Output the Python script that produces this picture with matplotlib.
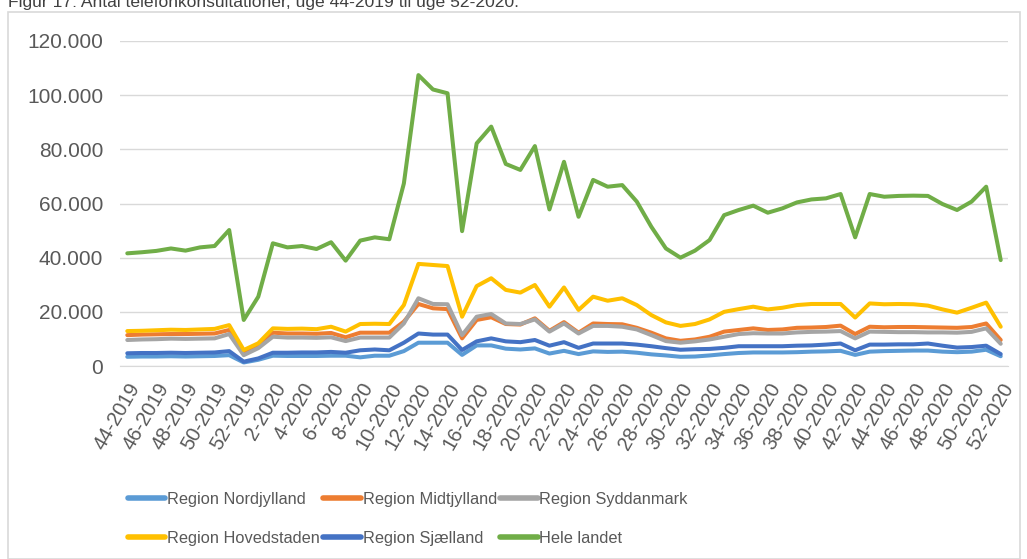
import matplotlib
matplotlib.use('agg')
import matplotlib.pyplot as plt
from matplotlib.patches import Rectangle
from matplotlib.ticker import FuncFormatter

# weeks 44-2019 .. 52-2020
weeks = [f'{w}-2019' for w in range(44, 53)] + [f'{w}-2020' for w in range(1, 53)]

nordjylland = [3400, 3500, 3500, 3600, 3500, 3600, 3700, 4000, 1300, 2300,
               3800, 3700, 3700, 3700, 3800, 3800, 3200, 3800, 3800, 5500,
               8600, 8600, 8600, 4100, 7600, 7600, 6400, 6100, 6500, 4600,
               5600, 4400, 5400, 5200, 5300, 4900, 4300, 3900, 3400, 3500,
               3900, 4400, 4800, 5000, 5000, 5000, 5100, 5300, 5400, 5600,
               4100, 5300, 5500, 5600, 5700, 5700, 5300, 5100, 5300, 6000,
               3600]
midtjylland = [11400, 11600, 11700, 11800, 11800, 11900, 12000, 13300, 4900, 7100,
               12300, 12000, 12000, 11900, 12200, 10600, 12300, 12300, 12300, 16400,
               22900, 21300, 21000, 10200, 17000, 18000, 15500, 15300, 17600, 13000,
               16200, 12300, 15700, 15500, 15400, 14100, 12300, 10200, 9300, 9800,
               10800, 12700, 13300, 13900, 13300, 13500, 14100, 14200, 14400, 14900,
               11800, 14500, 14300, 14400, 14400, 14300, 14200, 14100, 14400, 15700,
               9600]
syddanmark = [9600, 9800, 9900, 10100, 10000, 10100, 10200, 11800, 4000, 6600,
              10800, 10500, 10500, 10400, 10600, 9200, 10500, 10500, 10500, 15700,
              25000, 22900, 22800, 11400, 18200, 19200, 15700, 15500, 17200, 12700,
              15700, 12000, 14800, 14800, 14500, 13500, 11400, 9200, 8600, 9100,
              9800, 10800, 11800, 12100, 12000, 12000, 12400, 12600, 12700, 12900,
              10200, 12700, 12600, 12500, 12500, 12400, 12400, 12300, 12600, 13900,
              8200]
hovedstaden = [12900, 13000, 13200, 13400, 13300, 13500, 13700, 15100, 5900, 8400,
               13900, 13700, 13800, 13600, 14500, 12700, 15500, 15600, 15500, 22500,
               37700, 37300, 36900, 18200, 29500, 32400, 28100, 27100, 29900, 21900,
               29000, 20700, 25600, 24100, 25000, 22500, 18800, 16100, 14800, 15500,
               17200, 20000, 21000, 21900, 20900, 21500, 22500, 22900, 22900, 22900,
               17900, 23100, 22800, 22900, 22800, 22300, 20900, 19700, 21500, 23400,
               14500]
sjaelland = [4700, 4800, 4800, 4900, 4800, 4900, 5000, 5500, 1600, 2800,
             4900, 4900, 5000, 5000, 5200, 4900, 5800, 6100, 5800, 8600,
             12000, 11600, 11600, 5900, 9100, 10200, 9100, 8800, 9600, 7500,
             8800, 6700, 8300, 8300, 8300, 7900, 7300, 6600, 6000, 6200,
             6300, 6700, 7300, 7300, 7300, 7300, 7500, 7600, 7900, 8300,
             5800, 7900, 7900, 8000, 8000, 8300, 7500, 6800, 7000, 7500,
             4400]
hele_landet = [41600, 42000, 42500, 43400, 42600, 43800, 44300, 50200, 17000, 25600,
               45300, 43800, 44300, 43200, 45700, 38900, 46300, 47500, 46800, 67400,
               107400, 102100, 100700, 49800, 82200, 88400, 74600, 72400, 81200, 57800,
               75400, 55100, 68700, 66200, 66800, 60700, 51400, 43400, 40000, 42600,
               46500, 55700, 57600, 59200, 56600, 58200, 60400, 61500, 61900, 63500,
               47500, 63500, 62500, 62800, 62900, 62800, 59800, 57600, 60700, 66200,
               39100]

series = [
    ('Region Nordjylland', nordjylland, '#5B9BD5'),
    ('Region Midtjylland', midtjylland, '#ED7D31'),
    ('Region Syddanmark', syddanmark, '#A5A5A5'),
    ('Region Hovedstaden', hovedstaden, '#FFC000'),
    ('Region Sjælland', sjaelland, '#4472C4'),
    ('Hele landet', hele_landet, '#70AD47'),
]

plt.rcParams['font.family'] = ['Liberation Sans', 'DejaVu Sans']
txt = '#595959'

fig = plt.figure(figsize=(10.27, 5.59), dpi=100)
ax = fig.add_axes([120 / 1027, 1 - 366 / 559, 888 / 1027, 325 / 559])

x = list(range(len(weeks)))
lines = []
for name, vals, col in series:
    ln, = ax.plot(x, vals, color=col, lw=2.9, label=name, solid_capstyle='round', solid_joinstyle='round')
    lines.append(ln)

ax.set_xlim(-0.5, len(weeks) - 0.5)
ax.set_ylim(0, 120000)
ax.set_yticks(range(0, 120001, 20000))
ax.yaxis.set_major_formatter(FuncFormatter(lambda v, p: f'{int(v):,}'.replace(',', '.')))
ax.grid(axis='y', color='#D9D9D9', lw=1)
ax.set_axisbelow(True)
for s in ['top', 'right', 'left']:
    ax.spines[s].set_visible(False)
ax.spines['bottom'].set_color('#D9D9D9')
ax.set_xticks(x[::2])
ax.set_xticklabels(weeks[::2], rotation=60, ha='right', rotation_mode='anchor')
ax.tick_params(axis='both', length=0, colors=txt, labelsize=15)
ax.tick_params(axis='x', labelsize=14.5, pad=10)
ax.tick_params(axis='y', pad=12)

# legend fills columns first, so reorder to get rows N-M-S / H-Sj-Hele
order = [0, 3, 1, 4, 2, 5]
leg = fig.legend([lines[i] for i in order], [series[i][0] for i in order],
                 loc='upper left', bbox_to_anchor=(113 / 1027, 1 - 477 / 559), ncol=3,
                 frameon=False, handlelength=2.3, handletextpad=0.1,
                 columnspacing=0.2, labelspacing=1.45, labelcolor=txt, fontsize=11.8)
for h in leg.get_lines():
    h.set_linewidth(4)

# outer frame and cut-off title
fig.add_artist(Rectangle((8 / 1027, 0), 1012 / 1027, 1 - 12 / 559, transform=fig.transFigure,
                         fill=False, edgecolor='#D9D9D9', lw=1.2))
fig.text(8 / 1027, 1 - 7 / 559, 'Figur 17: Antal telefonkonsultationer, uge 44-2019 til uge 52-2020.',
         fontsize=12.6, color='#404040', va='baseline', ha='left')

fig.savefig('out.png', dpi=100)
